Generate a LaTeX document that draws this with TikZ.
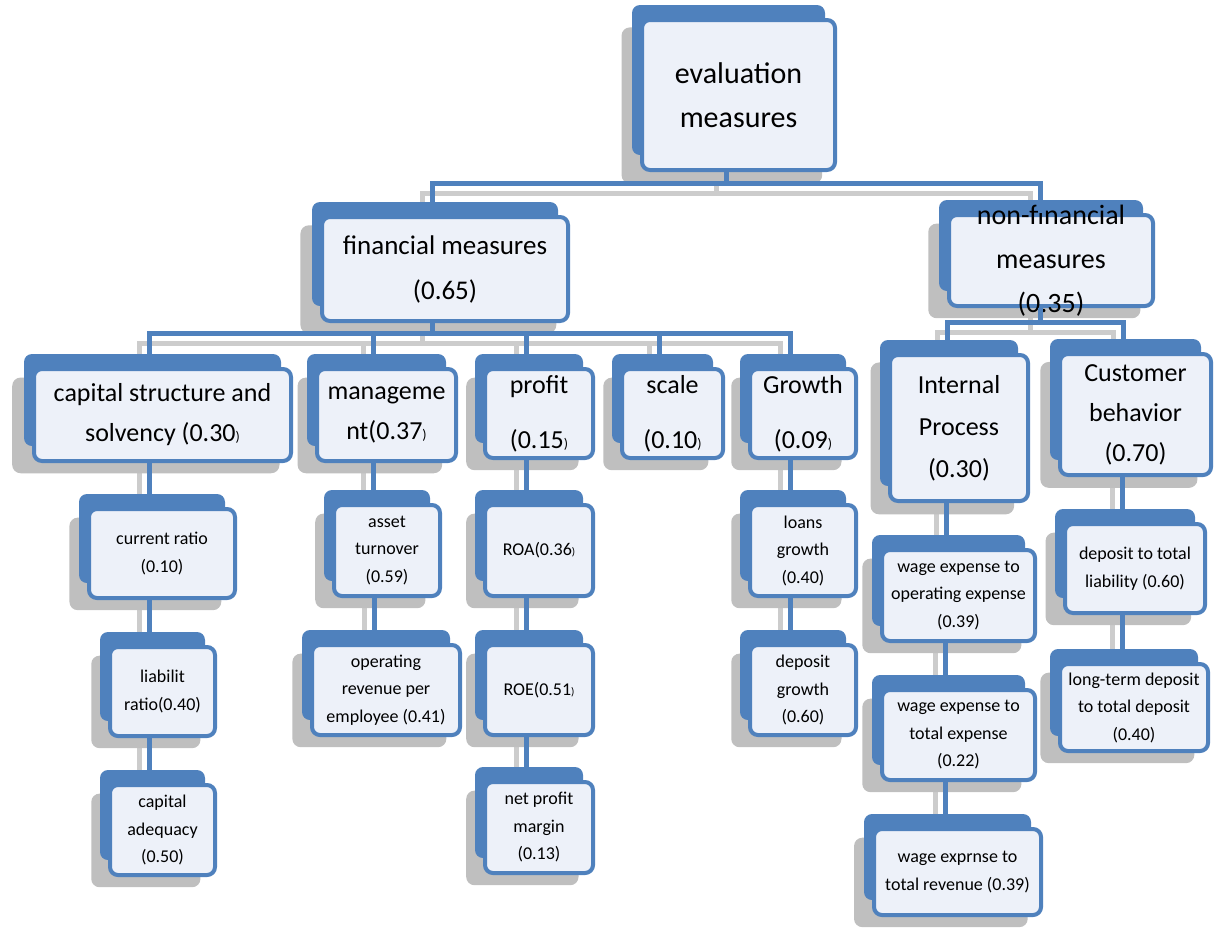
\documentclass[tikz,border=0pt]{standalone}
\usepackage{fontspec}
\setmainfont{Carlito}
\usetikzlibrary{shadows,backgrounds}
\definecolor{smBlue}{HTML}{4F81BD}
\definecolor{smFill}{HTML}{EDF1F9}
\definecolor{smGray}{HTML}{BFBFBF}
\newcommand{\tinyparen}[1]{{\fontsize{#1}{#1}\selectfont)}}
% tree connectors, drawn once as shadow and once in blue
\newcommand{\drawlinks}[1]{%
  \draw[#1] ([xshift=-6pt]eval.south) -- ++(0,11) coordinate (t0);
  \draw[#1] ([xshift=-6.5pt]fin.north) |- (t0) -| ([xshift=-5.5pt]nonfin.north);
  \draw[#1] ([xshift=-6.5pt]fin.south) -- ++(0,10) coordinate (t1);
  \draw[#1] ([xshift=-6.5pt]cap.north) |- (t1) -| ([xshift=-6.5pt]grow.north);
  \foreach \n in {mgmt,prof,scl}
    \draw[#1] ([xshift=-6.5pt]\n.north) -- ([xshift=-6.5pt]\n.north |- t1);
  \draw[#1] ([xshift=-5.5pt]nonfin.south) -- ++(0,14) coordinate (t2);
  \draw[#1] ([xshift=-6pt]intp.north) |- (t2) -| ([xshift=-6pt]cust.north);
  \foreach \a/\b in {cap/cr,cr/lr,lr/ca,mgmt/atov,atov/orv,prof/roa,roa/roe,roe/npm,grow/lg,lg/dg,intp/we1,we1/we2,we2/we3,cust/dtl,dtl/ltd}
    \draw[#1] ([xshift=-6.5pt]\a.south) -- ([xshift=-6.5pt]\a.south |- \b.north);
}

\begin{document}
\begin{tikzpicture}[x=0.5pt,y=-0.5pt,
  smbox/.style={draw=smBlue,line width=2pt,fill=smFill,rounded corners=4pt,align=center,inner sep=0pt,text=black,
    general shadow={fill=smGray,shadow scale=1.04,shadow xshift=-8pt,shadow yshift=-5pt},
    general shadow={fill=smBlue,shadow xshift=-5pt,shadow yshift=7.5pt}},
  topbox/.style={smbox,font=\fontsize{15}{22}\selectfont},
  midbox/.style={smbox,font=\fontsize{13.5}{22.5}\selectfont},
  subbox/.style={smbox,font=\fontsize{13}{20}\selectfont},
  leafbox/.style={smbox,font=\fontsize{9}{13.75}\selectfont},
  link/.style={draw=smBlue,line width=2.5pt},
  linkshadow/.style={draw=smGray!80,line width=2.5pt,transform canvas={shift={(-5pt,-5pt)}}}]
  \useasboundingbox (0,0) rectangle (1218,932);

  \node[topbox,minimum width=96.5pt,minimum height=75pt] (eval) at (738.5,95) {evaluation\\measures};
  \node[midbox,minimum width=123pt,minimum height=52pt] (fin) at (445,269) {financial measures\\(0.65)};
  \node[midbox,minimum width=102pt,minimum height=45.5pt,inner ysep=-6pt,font=\fontsize{14}{22}\selectfont] (nonfin) at (1051,260.5) {non-financial\\measures\\(0.35)};

  \node[subbox,minimum width=128.5pt,minimum height=46pt] (cap) at (162.5,415) {capital structure and\\solvency (0.30\tinyparen{7}};
  \node[subbox,minimum width=69.5pt,minimum height=46pt] (mgmt) at (386.5,415) {manageme\\nt(0.37\tinyparen{7}};
  \node[subbox,minimum width=54pt,minimum height=44.5pt] (prof) at (539,413.5) {profit\\[7.5pt](0.15\tinyparen{7}};
  \node[subbox,minimum width=50.5pt,minimum height=44.5pt] (scl) at (672.5,413.5) {scale\\[7.5pt](0.10\tinyparen{7}};
  \node[subbox,minimum width=53pt,minimum height=44.5pt] (grow) at (803,413.5) {Growth\\[7.5pt](0.09\tinyparen{7}};
  \node[subbox,minimum width=69pt,minimum height=73pt,font=\fontsize{13}{21}\selectfont] (intp) at (959,428) {Internal\\Process\\(0.30)};
  \node[subbox,minimum width=75.5pt,minimum height=60.5pt] (cust) at (1135.5,414.5) {Customer\\behavior\\(0.70)};

  \node[leafbox,minimum width=73pt,minimum height=44.5pt] (cr) at (162,553.5) {current ratio\\(0.10)};
  \node[leafbox,minimum width=52.5pt,minimum height=44.5pt] (lr) at (162.5,691.5) {liabilit\\ratio(0.40)};
  \node[leafbox,minimum width=52.5pt,minimum height=45pt] (ca) at (162.5,830) {capital\\adequacy\\(0.50)};
  \node[leafbox,minimum width=53pt,minimum height=45.5pt] (atov) at (387,550.5) {asset\\turnover\\(0.59)};
  \node[leafbox,minimum width=74pt,minimum height=45pt] (orv) at (386,690) {operating\\revenue per\\employee (0.41)};
  \node[leafbox,minimum width=54pt,minimum height=45.5pt] (roa) at (539,550.5) {ROA(0.36\tinyparen{5.5}};
  \node[leafbox,minimum width=54pt,minimum height=45pt] (roe) at (539,690) {ROE(0.51\tinyparen{5.5}};
  \node[leafbox,minimum width=54pt,minimum height=45.5pt] (npm) at (539,827.5) {net profit\\margin\\(0.13)};
  \node[leafbox,minimum width=53pt,minimum height=45.5pt] (lg) at (803,550.5) {loans\\growth\\(0.40)};
  \node[leafbox,minimum width=53pt,minimum height=45pt] (dg) at (803,690) {deposit\\growth\\(0.60)};
  \node[leafbox,minimum width=76.5pt,minimum height=45.5pt] (we1) at (958.5,595.5) {wage expense to\\operating expense\\(0.39)};
  \node[leafbox,minimum width=76.5pt,minimum height=45pt] (we2) at (958.5,735) {wage expense to\\total expense\\(0.22)};
  \node[leafbox,minimum width=83.5pt,minimum height=43pt] (we3) at (957.5,872) {wage exprnse to\\total revenue (0.39)};
  \node[leafbox,minimum width=70pt,minimum height=44.5pt] (dtl) at (1135,568.5) {deposit to total\\liability (0.60)};
  \node[leafbox,minimum width=74pt,minimum height=43.5pt] (ltd) at (1134,707.5) {long-term deposit\\to total deposit\\(0.40)};

  \begin{scope}[on background layer]
    \drawlinks{linkshadow}
  \end{scope}
  \drawlinks{link}
\end{tikzpicture}
\end{document}
